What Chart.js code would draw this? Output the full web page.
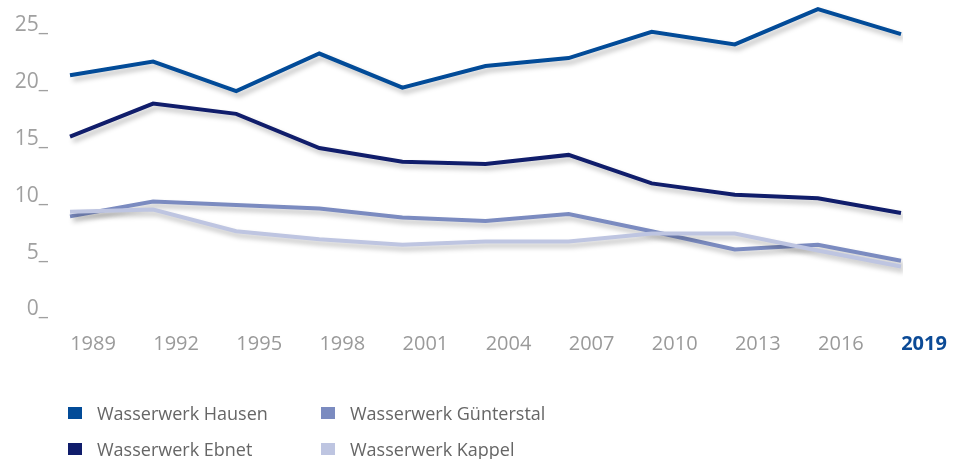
<!DOCTYPE html>
<html>
<head>
<meta charset="utf-8">
<script src="https://cdn.jsdelivr.net/npm/chart.js@4"></script>
<style>
  html, body { margin: 0; padding: 0; background: #fff; }
  #wrap { position: relative; width: 953px; height: 459px; }
  #myChart { position: absolute; left: 0; top: 0; }
  .leg { position: absolute; font-family: "Open Sans", sans-serif; font-size: 18px; color: #666; line-height: 20px; white-space: nowrap; }
  .leg i { position: absolute; left: -29px; top: 4px; width: 14px; height: 12px; }
</style>
</head>
<body>
<div id="wrap">
  <canvas id="myChart" width="953" height="459"></canvas>
</div>
<script>
// Werte
const years = ["1989", "1992", "1995", "1998", "2001", "2004", "2007", "2010", "2013", "2016", "2019"];

const hausen     = [20.4, 21.6, 19.0, 22.3, 19.3, 21.2, 21.9, 24.2, 23.1, 26.2, 24.0];
const ebnet      = [15.0, 17.9, 17.0, 14.0, 12.8, 12.6, 13.4, 10.9, 9.9, 9.6, 8.3];
const guenterstal = [8.0, 9.3, 9.0, 8.7, 7.9, 7.6, 8.2, 6.7, 5.1, 5.5, 4.1];
const kappel     = [8.4, 8.6, 6.7, 6.0, 5.5, 5.8, 5.8, 6.5, 6.5, 5.0, 3.6];

const names = ["Wasserwerk Hausen", "Wasserwerk Ebnet", "Wasserwerk Günterstal", "Wasserwerk Kappel"];
const colors = ["#024b98", "#101d6b", "#7b8bc0", "#bec5e1"];
const yTicks = [0, 5, 10, 15, 20, 25];

const FONT = "'Open Sans', sans-serif";

// soft drop shadow under every line
const shadowPlugin = {
    id: 'shadow',
    beforeDatasetDraw(chart) {
        const ctx = chart.ctx;
        ctx.save();
        ctx.shadowColor = 'rgba(0,0,0,0.25)';
        ctx.shadowBlur = 5;
        ctx.shadowOffsetX = 3;
        ctx.shadowOffsetY = 4;
    },
    afterDatasetDraw(chart) {
        chart.ctx.restore();
    }
};

var ctx = document.getElementById('myChart').getContext('2d');

var mychart = new Chart(ctx, {
    type: 'line',
    data: {
        labels: years,
        datasets: [
            { label: names[0], data: hausen, borderColor: colors[0], order: 1 },
            { label: names[1], data: ebnet, borderColor: colors[1], order: 2 },
            { label: names[2], data: guenterstal, borderColor: colors[2], order: 4 },
            { label: names[3], data: kappel, borderColor: colors[3], order: 3 }
        ].map(d => Object.assign(d, {
            backgroundColor: d.borderColor,
            borderWidth: 4,
            pointRadius: 0,
            tension: 0,
            fill: false
        }))
    },
    options: {
        responsive: false,
        animation: false,
        layout: {
            padding: { left: 0, right: 52, top: 0, bottom: 79 }
        },
        plugins: {
            legend: { display: false },
            tooltip: { enabled: false }
        },
        scales: {
            x: {
                offset: false,
                grid: { display: false, drawTicks: false },
                border: { display: false },
                ticks: {
                    autoSkip: false,
                    maxRotation: 0,
                    padding: 25,
                    labelOffset: 23,
                    color: (c) => c.index === years.length - 1 ? '#0b4a96' : '#9a9a9a',
                    font: (c) => ({ family: FONT, size: 20, weight: c.index === years.length - 1 ? 'bold' : 'normal' })
                },
                afterFit(scale) {
                    scale.height = 72.5;
                    scale.paddingLeft = 0;
                    scale.paddingRight = 0;
                }
            },
            y: {
                min: 0,
                max: 27,
                afterBuildTicks(scale) { scale.ticks = yTicks.map(v => ({ value: v })); },
                grid: { display: false, drawTicks: false },
                border: { display: false },
                ticks: {
                    padding: 22,
                    labelOffset: 2,
                    color: '#a0a0a0',
                    font: { family: FONT, size: 21 },
                    callback: (v) => v + '_'
                },
                afterFit(scale) {
                    scale.width = 70;
                    scale.paddingTop = 0;
                    scale.paddingBottom = 0;
                }
            }
        }
    },
    plugins: [shadowPlugin]
});

// legend in two columns like the original
const legendPos = [[97, 403], [97, 439], [350, 403], [350, 439]];
const wrap = document.getElementById('wrap');
names.forEach((n, i) => {
    const d = document.createElement('div');
    d.className = 'leg';
    d.style.left = legendPos[i][0] + 'px';
    d.style.top = legendPos[i][1] + 'px';
    d.innerHTML = '<i style="background:' + colors[i] + '"></i>' + n;
    wrap.appendChild(d);
});
</script>
</body>
</html>
